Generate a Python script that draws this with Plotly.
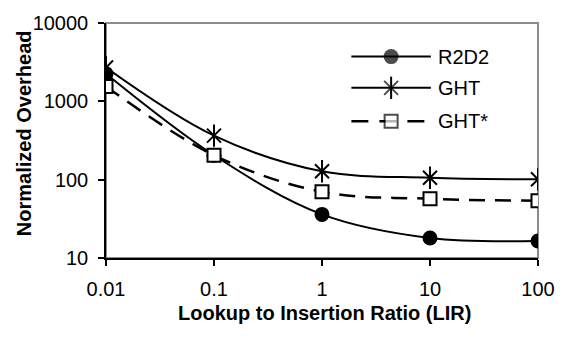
import plotly.graph_objects as go

# Data
lir = [0.01, 0.1, 1, 10, 100]
r2d2 = [2250, 205, 36, 18, 16.5]
ght = [2700, 365, 128, 106, 101]
ght_star = [1550, 205, 70, 57, 54]

x_ticks = [0.01, 0.1, 1, 10, 100]
x_ticktext = ["0.01", "0.1", "1", "10", "100"]
y_ticks = [10, 100, 1000, 10000]
y_ticktext = ["10", "100", "1000", "10000"]

series_names = ["R2D2", "GHT", "GHT*"]
x_title = "Lookup to Insertion Ratio (LIR)"
y_title = "Normalized Overhead"

FONT = "Arial, Liberation Sans, sans-serif"
FS = 20

fig = go.Figure()

circle_m = dict(symbol="circle", size=15, color="black", line=dict(color="black", width=0))
starx_m = dict(symbol="x-thin-open", size=14, color="black", line=dict(color="black", width=2))
starv_m = dict(symbol="line-ns-open", size=16, color="black", line=dict(color="black", width=2))
square_m = dict(symbol="square", size=13, color="white", line=dict(color="black", width=2))

fig.add_trace(go.Scatter(x=lir, y=r2d2, mode="lines+markers", name="R2D2",
                         line=dict(color="black", width=2, shape="spline"),
                         marker=circle_m, showlegend=False))
fig.add_trace(go.Scatter(x=lir, y=ght, mode="lines+markers", name="GHT",
                         line=dict(color="black", width=2, shape="spline"),
                         marker=starx_m, showlegend=False))
fig.add_trace(go.Scatter(x=lir, y=ght, mode="markers", name="GHT",
                         marker=starv_m, showlegend=False, hoverinfo="skip"))
fig.add_trace(go.Scatter(x=lir, y=ght_star, mode="lines+markers", name="GHT*",
                         line=dict(color="black", width=2.5, shape="spline", dash="16px,10px"),
                         marker=square_m, showlegend=False))

# Manual legend on an overlay axis (paper-like 0..1 coordinates)
leg_x0, leg_xm, leg_x1 = 0.568, 0.660, 0.752
leg_y = [0.857, 0.724, 0.582]
leg_markers = [[circle_m], [starx_m, starv_m], [square_m]]
leg_lines = [dict(color="black", width=2), dict(color="black", width=2),
             dict(color="black", width=2.5, dash="17px,11px")]
for name, yy, mks, ln in zip(series_names, leg_y, leg_markers, leg_lines):
    m = dict(mks[0])
    m["size"] = [0, mks[0]["size"], 0]
    fig.add_trace(go.Scatter(x=[leg_x0, leg_xm, leg_x1], y=[yy, yy, yy], mode="lines+markers",
                             line=ln, marker=m, xaxis="x2", yaxis="y2",
                             showlegend=False, hoverinfo="skip"))
    for extra in mks[1:]:
        fig.add_trace(go.Scatter(x=[leg_xm], y=[yy], mode="markers", marker=extra,
                                 xaxis="x2", yaxis="y2", showlegend=False, hoverinfo="skip"))
    fig.add_annotation(x=0.764, y=yy, xref="paper", yref="paper", text=name, showarrow=False,
                       xanchor="left", yanchor="middle", font=dict(family=FONT, size=FS, color="black"))

# axis titles
fig.add_annotation(x=0.505, y=-0.233, xref="paper", yref="paper", text="<b>%s</b>" % x_title,
                   showarrow=False, xanchor="center", yanchor="middle",
                   font=dict(family=FONT, size=FS, color="black"))
fig.add_annotation(x=-0.19, y=0.531, xref="paper", yref="paper", text="<b>%s</b>" % y_title,
                   showarrow=False, xanchor="center", yanchor="middle", textangle=-90,
                   font=dict(family=FONT, size=FS, color="black"))

# gray plot-area border (top/right)
fig.add_shape(type="rect", xref="paper", yref="paper", x0=0, y0=0, x1=1, y1=1,
              line=dict(color="#8c8c8c", width=2), layer="below")

fig.update_layout(
    width=567, height=339,
    margin=dict(l=106, r=21, t=16, b=81),
    paper_bgcolor="white", plot_bgcolor="white",
    font=dict(family=FONT, size=FS, color="black"),
    showlegend=False,
    xaxis=dict(type="log", range=[-2, 2], tickvals=x_ticks, ticktext=x_ticktext,
               showgrid=False, zeroline=False, showline=True, linecolor="black", linewidth=1.5,
               ticks="outside", ticklen=6, tickwidth=1.5, tickcolor="black",
               ticklabelstandoff=6,
               tickfont=dict(family=FONT, size=FS)),
    yaxis=dict(type="log", range=[1, 4], tickvals=y_ticks, ticktext=y_ticktext,
               showgrid=False, zeroline=False, showline=True, linecolor="black", linewidth=1.5,
               ticks="outside", ticklen=6, tickwidth=1.5, tickcolor="black",
               ticklabelstandoff=6,
               tickfont=dict(family=FONT, size=FS)),
    xaxis2=dict(overlaying="x", range=[0, 1], visible=False, anchor="y2"),
    yaxis2=dict(overlaying="y", range=[0, 1], visible=False, anchor="x2"),
)

fig.write_html("out.html")
